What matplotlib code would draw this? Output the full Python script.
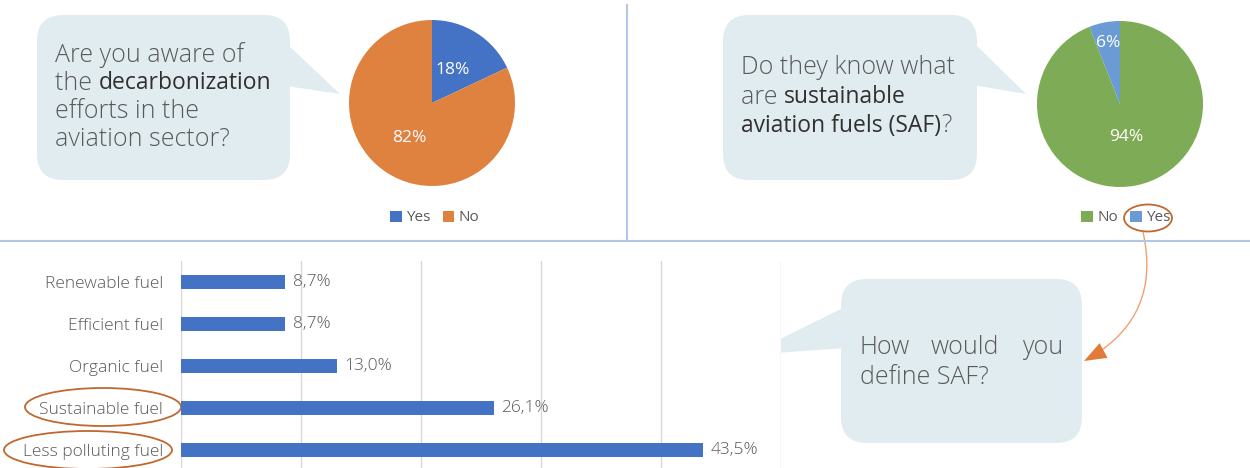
import matplotlib
matplotlib.use("Agg")
import matplotlib.pyplot as plt
from matplotlib.patches import FancyBboxPatch, Polygon, Ellipse, FancyArrowPatch

plt.rcParams['font.family'] = ['Open Sans', 'DejaVu Sans']

# data
aware_labels = ['Yes', 'No']
aware_vals = [18, 82]
saf_labels = ['No', 'Yes']
saf_vals = [94, 6]
fuel_cats = ['Renewable fuel', 'Efficient fuel', 'Organic fuel', 'Sustainable fuel', 'Less polluting fuel']
fuel_vals = [8.7, 8.7, 13.0, 26.1, 43.5]

W, H = 1250, 468
GRAY = '#595959'
DARK = '#303030'
BUBBLE = '#e1ecf0'
RING = '#c0682f'

fig = plt.figure(figsize=(W / 100, H / 100), dpi=100)


def fig_box(x0, y0, x1, y1):
    # pixel box (top-left origin) -> figure fraction rect
    return [x0 / W, 1 - y1 / H, (x1 - x0) / W, (y1 - y0) / H]


# bar chart
axb = fig.add_axes(fig_box(181, 261, 781, 471))
ypos = list(range(len(fuel_cats)))
axb.barh(ypos, fuel_vals, height=0.31, color='#4472c4', zorder=3)
axb.set_xlim(0, 50)
axb.set_ylim(len(fuel_cats) - 0.5, -0.5)
axb.set_xticks([0, 10, 20, 30, 40, 50])
axb.set_xticklabels([])
axb.tick_params(axis='x', length=0)
axb.set_yticks(ypos)
axb.set_yticklabels(fuel_cats, fontsize=12.5, color=GRAY, fontweight='light')
axb.tick_params(axis='y', length=0, pad=13)
axb.grid(axis='x', color='#d9d9d9', lw=1, zorder=0)
for s in ['top', 'right', 'bottom']:
    axb.spines[s].set_visible(False)
axb.spines['left'].set_color('#d9d9d9')
for y, v in zip(ypos, fuel_vals):
    axb.text(v + 0.6, y, ('%.1f%%' % v).replace('.', ','), va='center', ha='left',
             fontsize=12.5, color=GRAY, fontweight='light')


def draw_pie(cx, cy, r, vals, labels, colors, dists, lx):
    ax = fig.add_axes(fig_box(cx - r, cy - r, cx + r, cy + r))
    wedges, _, autos = ax.pie(vals, colors=colors, startangle=90, counterclock=False,
                              autopct='%.0f%%', pctdistance=1.0,
                              textprops=dict(color='white', fontsize=12.5))
    for t, d in zip(autos, dists):
        x, y = t.get_position()
        t.set_position((x * d, y * d))
    ax.set_xlim(-1, 1)
    ax.set_ylim(-1, 1)
    leg = ax.legend(wedges, labels, loc='center', ncol=2, frameon=False,
                    bbox_to_anchor=(lx / W, 1 - 218 / H), bbox_transform=fig.transFigure,
                    handlelength=0.75, handleheight=0.75, handletextpad=0.3,
                    columnspacing=0.8, fontsize=11)
    for t in leg.get_texts():
        t.set_color(GRAY)
    return ax


draw_pie(432, 103, 83, aware_vals, aware_labels, ['#4472c4', '#e0823f'], [0.47, 0.5], 435)
draw_pie(1120, 104, 83, saf_vals, saf_labels, ['#7eab55', '#6a9bd4'], [0.4, 0.75], 1126)

# overlay in pixel coords
ov = fig.add_axes([0, 0, 1, 1], zorder=-1)
ov.set_xlim(0, W)
ov.set_ylim(H, 0)
ov.axis('off')

ov.plot([0, W], [241, 241], color='#b4c6e7', lw=1.5)
ov.plot([627, 627], [5, 240], color='#b4c6e7', lw=1.5)


def bubble(x0, y0, x1, y1, tri):
    ov.add_patch(FancyBboxPatch((x0, y0), x1 - x0, y1 - y0,
                                boxstyle='round,pad=0,rounding_size=26',
                                fc=BUBBLE, ec='none'))
    ov.add_patch(Polygon(tri, closed=True, fc=BUBBLE, ec='none'))


bubble(37, 15, 290, 180, [(286, 43), (286, 86), (340, 94)])
bubble(723, 15, 977, 180, [(973, 42), (973, 85), (1026, 94)])
bubble(841, 279, 1082, 443, [(845, 307), (845, 348), (748, 355)])

fig.canvas.draw()
rend = fig.canvas.get_renderer()


def runs(x, y, parts):
    for txt, emph in parts:
        t = ov.text(x, y, txt, fontsize=16.5 if emph else 18, va='center', ha='left',
                    color=DARK if emph else GRAY,
                    fontweight='normal' if emph else 'light')
        x += t.get_window_extent(rend).width


runs(55, 55, [('Are you aware of', False)])
runs(55, 83, [('the ', False), ('decarbonization', True)])
runs(55, 111, [('efforts in the', False)])
runs(55, 139, [('aviation sector?', False)])

runs(741, 68, [('Do they know what', False)])
runs(741, 97, [('are ', False), ('sustainable', True)])
runs(741, 126, [('aviation fuels (SAF)', True), ('?', False)])

ov.text(860, 348, 'How', fontsize=18, va='center', ha='left', color=GRAY, fontweight='light')
ov.text(965, 348, 'would', fontsize=18, va='center', ha='center', color=GRAY, fontweight='light')
ov.text(1063, 348, 'you', fontsize=18, va='center', ha='right', color=GRAY, fontweight='light')
runs(860, 378, [('define SAF?', False)])

# highlight rings
for cx, cy, w, h in [(103, 407, 156, 38), (88, 450, 168, 38), (1148, 218, 48, 27)]:
    ov.add_patch(Ellipse((cx, cy), w, h, fill=False, ec=RING, lw=1.3))

arc = 'arc3,rad=-0.38'
ov.add_patch(FancyArrowPatch((1143, 232), (1084, 361), connectionstyle=arc,
                             arrowstyle='-', color='#f0a070', lw=1, shrinkA=0, shrinkB=6))
ov.add_patch(FancyArrowPatch((1143, 232), (1084, 361), connectionstyle=arc,
                             arrowstyle='-|>,head_length=16,head_width=6',
                             color='#e07b39', lw=0, shrinkA=0, shrinkB=0, mutation_scale=1))

fig.savefig('out.png', dpi=100)
